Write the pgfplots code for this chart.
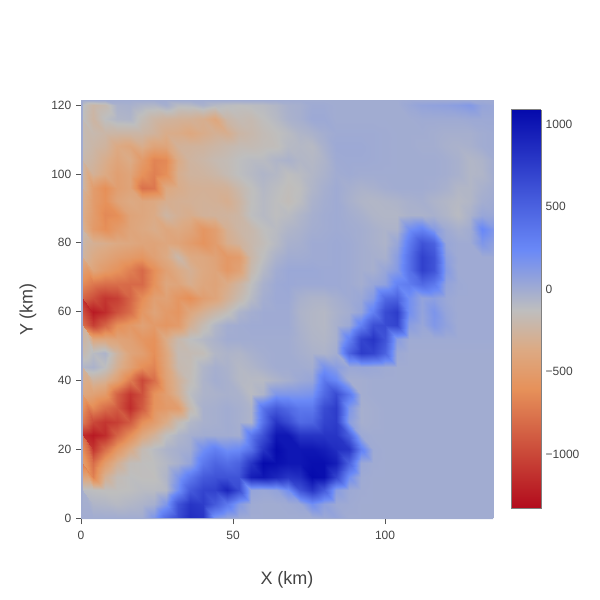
\documentclass[border=0pt]{standalone}
\usepackage{fontspec}
\setmainfont{Liberation Sans}
\usepackage{pgfplots}
\pgfplotsset{compat=1.18}
\definecolor{TXT}{HTML}{444444}
\definecolor{TICK}{HTML}{555555}
\definecolor{BASE}{RGB}{161,172,209}
\pgfplotsset{
  colormap={cmap}{rgb255(0)=(178,10,28) rgb255(30)=(230,145,90) rgb255(40)=(220,170,132) rgb255(50)=(190,190,190) rgb255(65)=(106,137,247) rgb255(100)=(5,10,172)},
  colormap name=cmap,
}
\begin{document}
\begin{tikzpicture}
\path[use as bounding box] (0,0) rectangle (450pt,450pt);
\begin{axis}[
  at={(60.75pt,60.75pt)}, anchor=south west,
  scale only axis, width=309pt, height=314.25pt,
  view={0}{90},
  xmin=0, xmax=135.5, ymin=-0.3, ymax=121.5,
  xtick={0,50,100}, ytick={0,20,40,60,80,100,120},
  axis background/.style={fill=BASE},
  axis line style={draw=none},
  tick align=outside, major tick length=3.75pt,
  tick style={draw=TICK, line width=0.6pt},
  xtick pos=bottom, ytick pos=left,
  tick label style={font=\fontsize{9}{9}\selectfont, text=TXT},
  xticklabel style={yshift=-2pt},
  /pgf/number format/assume math mode=true,
  /pgf/number format/1000 sep={},
  xlabel={X (km)}, ylabel={Y (km)},
  label style={font=\fontsize{13.5}{13.5}\selectfont, text=TXT},
  xlabel style={at={(axis description cs:0.5,-0.146)}, anchor=center},
  ylabel style={at={(axis description cs:-0.1286,0.5)}, anchor=center},
  point meta min=-1333, point meta max=1085,
]
% 35 values per y row, in groups of five
\addplot3[surf, shader=interp, mesh/cols=35] table[
  row sep=\\,
  x expr={max(0.7,4*mod(\coordindex,35))},
  y expr={\coordindex<35 ? 121.5 : 120-4*(floor(\coordindex/35)-1)},
  z=z] {
z\\
0\\ 0\\ 0\\ 0\\ 0\\  0\\ 0\\ 0\\ 0\\ 0\\  0\\ 0\\ 0\\ 0\\ 0\\  0\\ 0\\ 0\\ 0\\ 0\\  0\\ 0\\ 0\\ 0\\ 0\\  0\\ 0\\ 10\\ 10\\ 10\\  10\\ 10\\ 10\\ 10\\ 10\\
-120\\ -220\\ -180\\ -40\\ -30\\  -60\\ -70\\ -20\\ -100\\ -90\\  -40\\ -90\\ -110\\ -120\\ -110\\  -100\\ -70\\ -30\\ -20\\ 10\\  10\\ 0\\ 0\\ 0\\ 0\\  0\\ 0\\ 30\\ 60\\ 70\\  80\\ 100\\ 130\\ 50\\ 30\\
-130\\ -240\\ -120\\ -70\\ -60\\  -160\\ -230\\ -260\\ -280\\ -290\\  -320\\ -400\\ -220\\ -170\\ -180\\  -130\\ -90\\ -40\\ -20\\ 20\\  20\\ 0\\ 0\\ 0\\ 0\\  0\\ 0\\ 0\\ 10\\ 10\\  10\\ 10\\ 20\\ 20\\ 20\\
-170\\ -190\\ -220\\ -230\\ -230\\  -230\\ -270\\ -340\\ -350\\ -390\\  -340\\ -300\\ -320\\ -230\\ -200\\  -160\\ -130\\ -100\\ -60\\ -40\\  -10\\ 10\\ 10\\ 10\\ 10\\  5\\ 0\\ 0\\ 0\\ -10\\  -20\\ -20\\ -20\\ 0\\ 10\\
-170\\ -220\\ -260\\ -370\\ -410\\  -330\\ -430\\ -420\\ -280\\ -270\\  -260\\ -230\\ -200\\ -170\\ -170\\  -150\\ -140\\ -90\\ -80\\ -90\\  -30\\ 20\\ 20\\ 20\\ 10\\  5\\ 0\\ 0\\ -10\\ -10\\  -30\\ -40\\ -30\\ 0\\ 10\\
-200\\ -250\\ -330\\ -420\\ -350\\  -520\\ -680\\ -650\\ -350\\ -250\\  -220\\ -180\\ -160\\ -120\\ -100\\  -100\\ -60\\ -40\\ -70\\ -80\\  -50\\ 10\\ 15\\ 15\\ 10\\  5\\ 0\\ 0\\ 0\\ 0\\  -10\\ -30\\ -70\\ -50\\ 0\\
-240\\ -290\\ -370\\ -470\\ -420\\  -600\\ -700\\ -620\\ -320\\ -260\\  -250\\ -220\\ -170\\ -120\\ -90\\  -60\\ -80\\ -120\\ -100\\ -70\\  -40\\ 0\\ 10\\ 0\\ 0\\  0\\ 0\\ 0\\ 0\\ 0\\  -10\\ -30\\ -70\\ -60\\ 0\\
-250\\ -500\\ -620\\ -480\\ -430\\  -780\\ -750\\ -380\\ -340\\ -300\\  -290\\ -290\\ -280\\ -200\\ -130\\  -80\\ -110\\ -140\\ -120\\ -60\\  -20\\ 10\\ -20\\ -40\\ -30\\  -10\\ 0\\ 0\\ 0\\ -10\\  -30\\ -70\\ -70\\ -30\\ 0\\
-300\\ -500\\ -600\\ -430\\ -370\\  -400\\ -380\\ -320\\ -300\\ -290\\  -280\\ -290\\ -320\\ -240\\ -130\\  -90\\ -120\\ -150\\ -110\\ -40\\  -10\\ 10\\ -30\\ -60\\ -70\\  -60\\ -50\\ -30\\ -20\\ -50\\  -70\\ -90\\ -70\\ -10\\ 10\\
-350\\ -500\\ -650\\ -620\\ -430\\  -400\\ -360\\ -240\\ -300\\ -330\\  -280\\ -270\\ -260\\ -230\\ -120\\  -90\\ -120\\ -100\\ -60\\ -20\\  0\\ 10\\ -10\\ -30\\ -60\\  -70\\ -70\\ -40\\ -40\\ -30\\  -60\\ -100\\ -40\\ 40\\ 30\\
-300\\ -520\\ -620\\ -520\\ -420\\  -380\\ -340\\ -400\\ -370\\ -420\\  -560\\ -480\\ -300\\ -230\\ -200\\  -130\\ -100\\ -60\\ -40\\ -10\\  0\\ 10\\ 0\\ -10\\ -30\\  -50\\ -50\\ 200\\ 280\\ 120\\  10\\ -30\\ 0\\ 250\\ 130\\
-200\\ -300\\ -330\\ -370\\ -390\\  -420\\ -430\\ -400\\ -430\\ -500\\  -580\\ -500\\ -330\\ -270\\ -200\\  -150\\ -90\\ -30\\ -20\\ 10\\  10\\ 20\\ 10\\ -10\\ -30\\  -50\\ 40\\ 330\\ 600\\ 500\\  40\\ 10\\ 10\\ 150\\ 70\\
-260\\ -360\\ -420\\ -480\\ -520\\  -560\\ -460\\ -370\\ -210\\ -370\\  -390\\ -440\\ -540\\ -500\\ -220\\  -120\\ -40\\ 0\\ 0\\ 10\\  10\\ 20\\ 10\\ -10\\ -20\\  -30\\ 100\\ 400\\ 720\\ 600\\  90\\ 10\\ 10\\ 10\\ 10\\
-340\\ -420\\ -520\\ -590\\ -700\\  -820\\ -620\\ -460\\ -360\\ -300\\  -380\\ -420\\ -540\\ -450\\ -190\\  -80\\ 0\\ 30\\ 30\\ 30\\  20\\ 20\\ 10\\ -10\\ -20\\  40\\ 120\\ 400\\ 720\\ 600\\  120\\ 10\\ 10\\ 10\\ 10\\
-650\\ -750\\ -800\\ -800\\ -820\\  -820\\ -600\\ -400\\ -420\\ -330\\  -400\\ -430\\ -350\\ -250\\ -120\\  -30\\ 20\\ 30\\ 20\\ 20\\  20\\ 20\\ 10\\ -10\\ 40\\  80\\ 280\\ 330\\ 450\\ 350\\  60\\ 20\\ 10\\ 10\\ 10\\
-850\\ -960\\ -1100\\ -1050\\ -850\\  -630\\ -470\\ -450\\ -560\\ -620\\  -480\\ -420\\ -300\\ -190\\ -90\\  -10\\ 20\\ 20\\ -30\\ -50\\  -50\\ -20\\ 10\\ 30\\ 120\\  450\\ 500\\ 200\\ 60\\ 90\\  30\\ 10\\ 10\\ 10\\ 10\\
-1150\\ -1250\\ -1150\\ -950\\ -800\\  -550\\ -430\\ -520\\ -570\\ -400\\  -300\\ -220\\ -150\\ -50\\ -10\\  10\\ 10\\ 10\\ -50\\ -70\\  -80\\ -40\\ -10\\ 50\\ 300\\  650\\ 750\\ 200\\ 60\\ 160\\  50\\ 10\\ 10\\ 10\\ 10\\
-800\\ -1050\\ -850\\ -620\\ -540\\  -450\\ -520\\ -560\\ -520\\ -300\\  -170\\ -70\\ -10\\ 0\\ 10\\  10\\ 10\\ 10\\ -40\\ -70\\  -80\\ -30\\ 20\\ 300\\ 620\\  650\\ 700\\ 100\\ 40\\ 140\\  70\\ 10\\ 10\\ 10\\ 10\\
-300\\ -400\\ -400\\ -430\\ -460\\  -560\\ -600\\ -350\\ -200\\ -120\\  -80\\ -40\\ 0\\ 0\\ 0\\  0\\ 0\\ 0\\ -30\\ -60\\  -70\\ -30\\ 300\\ 700\\ 800\\  600\\ 100\\ 10\\ 10\\ 10\\  10\\ 10\\ 10\\ 10\\ 10\\
-180\\ -100\\ -50\\ -250\\ -420\\  -480\\ -620\\ -400\\ -170\\ -170\\  -150\\ -70\\ -50\\ -60\\ -30\\  -10\\ 0\\ 0\\ -20\\ -40\\  -50\\ -10\\ 500\\ 750\\ 700\\  500\\ 20\\ 0\\ 0\\ 0\\  0\\ 0\\ 0\\ 0\\ 0\\
-70\\ -40\\ -120\\ -300\\ -460\\  -620\\ -680\\ -420\\ -190\\ -160\\  -60\\ -20\\ -40\\ -80\\ -60\\  -30\\ 0\\ 0\\ 0\\ -10\\  180\\ 100\\ 30\\ 40\\ 30\\  10\\ 0\\ 0\\ 0\\ 0\\  0\\ 0\\ 0\\ 0\\ 0\\
-260\\ -250\\ -300\\ -460\\ -720\\  -1000\\ -800\\ -450\\ -280\\ -150\\  -50\\ -10\\ -30\\ -80\\ -90\\  -90\\ -50\\ -20\\ 20\\ 40\\  350\\ 250\\ -10\\ -10\\ 0\\  0\\ 0\\ 0\\ 0\\ 0\\  0\\ 0\\ 0\\ 0\\ 0\\
-400\\ -450\\ -520\\ -860\\ -1100\\  -950\\ -600\\ -480\\ -300\\ -110\\  -50\\ -40\\ -30\\ -40\\ -100\\  -50\\ 150\\ 150\\ 150\\ 170\\  450\\ 650\\ 350\\ -10\\ 0\\  0\\ 0\\ 0\\ 0\\ 0\\  0\\ 0\\ 0\\ 0\\ 0\\
-480\\ -650\\ -800\\ -900\\ -1150\\  -900\\ -580\\ -520\\ -500\\ -180\\  -30\\ -20\\ 0\\ -20\\ -50\\  380\\ 550\\ 450\\ 350\\ 350\\  650\\ 750\\ 150\\ -20\\ -10\\  0\\ 0\\ 0\\ 0\\ 0\\  0\\ 0\\ 0\\ 0\\ 0\\
-750\\ -1000\\ -1100\\ -1050\\ -900\\  -620\\ -500\\ -350\\ -170\\ -70\\  -30\\ -20\\ 0\\ -20\\ -50\\  400\\ 800\\ 650\\ 450\\ 480\\  700\\ 750\\ 100\\ -20\\ -10\\  0\\ 0\\ 0\\ 0\\ 0\\  0\\ 0\\ 0\\ 0\\ 0\\
-1150\\ -1250\\ -1150\\ -850\\ -620\\  -400\\ -280\\ -130\\ -60\\ -20\\  0\\ 0\\ 0\\ -10\\ 350\\  620\\ 1000\\ 1000\\ 800\\ 800\\  800\\ 800\\ 500\\ 20\\ 0\\  0\\ 0\\ 0\\ 0\\ 0\\  0\\ 0\\ 0\\ 0\\ 0\\
-800\\ -1100\\ -800\\ -550\\ -350\\  -170\\ -100\\ -50\\ -20\\ 0\\  200\\ 300\\ 200\\ 230\\ 400\\  800\\ 1080\\ 1000\\ 1000\\ 1000\\  950\\ 850\\ 800\\ 300\\ 10\\  0\\ 0\\ 0\\ 0\\ 0\\  0\\ 0\\ 0\\ 0\\ 0\\
-500\\ -800\\ -500\\ -300\\ -150\\  -130\\ -120\\ -80\\ -30\\ 50\\  350\\ 480\\ 420\\ 500\\ 800\\  1080\\ 1050\\ 1000\\ 1000\\ 1050\\  1050\\ 950\\ 500\\ 30\\ 5\\  0\\ 0\\ 0\\ 0\\ 0\\  0\\ 0\\ 0\\ 0\\ 0\\
-750\\ -700\\ -300\\ -160\\ -120\\  -130\\ -130\\ -60\\ 150\\ 350\\  550\\ 600\\ 600\\ 600\\ 950\\  1000\\ 900\\ 800\\ 850\\ 1080\\  1050\\ 700\\ 200\\ 10\\ 0\\  0\\ 0\\ 0\\ 0\\ 0\\  0\\ 0\\ 0\\ 0\\ 0\\
-100\\ -120\\ -130\\ -130\\ -120\\  -100\\ -100\\ -80\\ 200\\ 550\\  700\\ 720\\ 900\\ 650\\ 50\\  30\\ 60\\ 200\\ 600\\ 800\\  550\\ 100\\ 20\\ 5\\ 0\\  0\\ 0\\ 0\\ 0\\ 0\\  0\\ 0\\ 0\\ 0\\ 0\\
-30\\ -60\\ -70\\ -90\\ -70\\  -50\\ -20\\ 150\\ 600\\ 800\\  750\\ 550\\ 350\\ 120\\ 10\\  0\\ 0\\ 10\\ 30\\ 200\\  80\\ 20\\ 10\\ 0\\ 0\\  0\\ 0\\ 0\\ 0\\ 0\\  0\\ 0\\ 0\\ 0\\ 0\\
0\\ 0\\ 0\\ 0\\ 0\\  0\\ 150\\ 450\\ 650\\ 850\\  800\\ 150\\ 50\\ 20\\ 0\\  0\\ 0\\ 0\\ 0\\ 0\\  20\\ 50\\ 0\\ 0\\ 0\\  0\\ 0\\ 0\\ 0\\ 0\\  0\\ 0\\ 0\\ 0\\ 0\\
};
\end{axis}
% colour bar as its own small axis
\begin{axis}[
  at={(383.25pt,68.25pt)}, anchor=south west,
  scale only axis, width=22.5pt, height=299.25pt,
  view={0}{90},
  xmin=0, xmax=1, ymin=-1333, ymax=1085,
  xtick=\empty,
  ytick={-1000,-500,0,500,1000},
  yticklabels={−1000,−500,0,500,1000},
  ytick pos=right, yticklabel pos=right,
  major tick length=0pt,
  axis on top,
  axis line style={draw=gray, line width=0.75pt},
  tick label style={font=\fontsize{9}{9}\selectfont, text=TXT},
  point meta min=-1333, point meta max=1085,
]
\addplot3[surf, shader=interp, mesh/cols=2] table {
x y z
0 -1333 -1333
1 -1333 -1333
0 -608 -608
1 -608 -608
0 -366 -366
1 -366 -366
0 -124 -124
1 -124 -124
0 239 239
1 239 239
0 1085 1085
1 1085 1085
};
\end{axis}
\end{tikzpicture}
\end{document}
